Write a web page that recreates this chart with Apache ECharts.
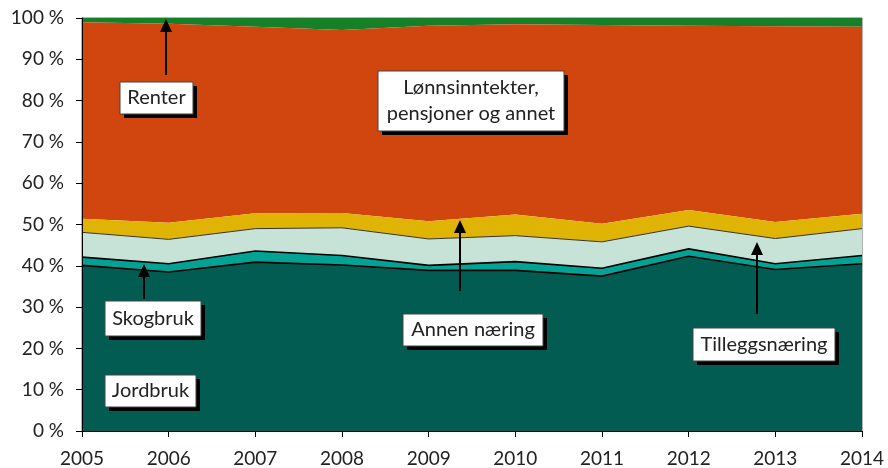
<!DOCTYPE html>
<html>
<head>
<meta charset="utf-8">
<script src="https://cdn.jsdelivr.net/npm/echarts@6/dist/echarts.min.js"></script>
<style>
  html, body { margin: 0; padding: 0; background: #fff; }
  #chart { width: 888px; height: 468px; }
</style>
</head>
<body>
<div id="chart"></div>
<script>
// data (share of income, %)
const years = ['2005', '2006', '2007', '2008', '2009', '2010', '2011', '2012', '2013', '2014'];
const jordbruk = [40.1, 38.5, 40.9, 40.2, 38.9, 38.9, 37.5, 42.3, 39.1, 40.5];
const skogbruk = [2.0, 2.0, 2.7, 2.3, 1.2, 2.1, 1.9, 1.8, 1.4, 2.0];
const tilleggsnaering = [6.0, 5.9, 5.4, 6.7, 6.4, 6.3, 6.4, 5.5, 6.1, 6.5];
const annenNaering = [3.3, 4.0, 3.7, 3.6, 4.3, 5.1, 4.4, 3.9, 4.0, 3.6];
const lonn = [47.6, 48.2, 45.2, 44.3, 47.3, 46.1, 48.1, 44.6, 47.4, 45.3];
const renter = [1.0, 1.4, 2.1, 2.9, 1.9, 1.5, 1.7, 1.9, 2.0, 2.1];

const FONT = 'Lato, "Open Sans", sans-serif';
const FS = 19;
const chart = echarts.init(document.getElementById('chart'));

// lag i stabelen
const layers = [
  { name: 'Jordbruk', data: jordbruk, color: '#025c51', line: { color: '#000', width: 1.6 } },
  { name: 'Skogbruk', data: skogbruk, color: '#02a394', line: { color: '#000', width: 1.6 } },
  { name: 'Tilleggsnæring', data: tilleggsnaering, color: '#c7e3d8', line: { color: '#333', width: 1 } },
  { name: 'Annen næring', data: annenNaering, color: '#e0b405', line: { width: 0 } },
  { name: 'Lønnsinntekter', data: lonn, color: '#d0460e', line: { width: 0 } },
  { name: 'Renter', data: renter, color: '#158027', line: { width: 0 } },
];

const series = layers.map((l, i) => ({
  name: l.name,
  type: 'line',
  stack: 'total',
  data: l.data,
  symbol: 'none',
  z: 10 - i,
  lineStyle: l.line,
  areaStyle: { color: l.color, opacity: 1 },
  itemStyle: { color: l.color },
  emphasis: { disabled: true },
}));

// etikett med skygge
function callout(x, y, w, h, lines) {
  const lh = 26;
  const top = y + h / 2 - (lines.length - 1) * lh / 2;
  return [
    { type: 'rect', shape: { x: x + 4, y: y + 4, width: w, height: h }, style: { fill: '#000' }, z: 100 },
    { type: 'rect', shape: { x: x, y: y, width: w, height: h }, style: { fill: '#fff', stroke: '#444', lineWidth: 1 }, z: 101 },
    ...lines.map((t, k) => ({
      type: 'text', x: x + w / 2, y: top + k * lh, z: 102,
      style: { text: t, fill: '#222', font: '20px ' + FONT, align: 'center', verticalAlign: 'middle' },
    })),
  ];
}

function arrow(x, y1, y2) {
  return [
    { type: 'line', shape: { x1: x, y1: y1, x2: x, y2: y2 + 8 }, style: { stroke: '#000', lineWidth: 2 }, z: 100 },
    { type: 'polygon', shape: { points: [[x, y2], [x - 6, y2 + 13], [x + 6, y2 + 13]] }, style: { fill: '#000' }, z: 100 },
  ];
}

const graphics = [
  ...arrow(166, 75, 19),
  ...callout(120, 82, 73, 32, ['Renter']),
  ...callout(378, 71, 186, 60, ['Lønnsinntekter,', 'pensjoner og annet']),
  ...arrow(144, 299, 264),
  ...callout(105, 301, 96, 35, ['Skogbruk']),
  ...arrow(460, 291, 220),
  ...callout(403, 314, 140, 32, ['Annen næring']),
  ...arrow(757, 314, 242),
  ...callout(693, 328, 142, 33, ['Tilleggsnæring']),
  ...callout(105, 375, 91, 32, ['Jordbruk']),
];

const option = {
  animation: false,
  grid: {
    left: 82, right: 26, top: 18, bottom: 36,
    show: true, borderColor: '#6b6b6b', borderWidth: 1,
  },
  xAxis: {
    type: 'category',
    data: years,
    boundaryGap: false,
    axisLine: { lineStyle: { color: '#000', width: 1 } },
    axisTick: { length: 6, lineStyle: { color: '#000' } },
    axisLabel: { color: '#222', fontSize: FS, fontFamily: FONT, margin: 18 },
    z: 20,
  },
  yAxis: {
    type: 'value',
    min: 0, max: 100, interval: 10,
    axisLine: { show: true, lineStyle: { color: '#000', width: 1 } },
    axisTick: { show: true, length: 6, lineStyle: { color: '#000' } },
    axisLabel: { color: '#222', fontSize: FS, fontFamily: FONT, margin: 18, formatter: '{value} %' },
    splitLine: { show: false },
    z: 20,
  },
  series: series,
  graphic: graphics,
};

chart.setOption(option);
</script>
</body>
</html>
